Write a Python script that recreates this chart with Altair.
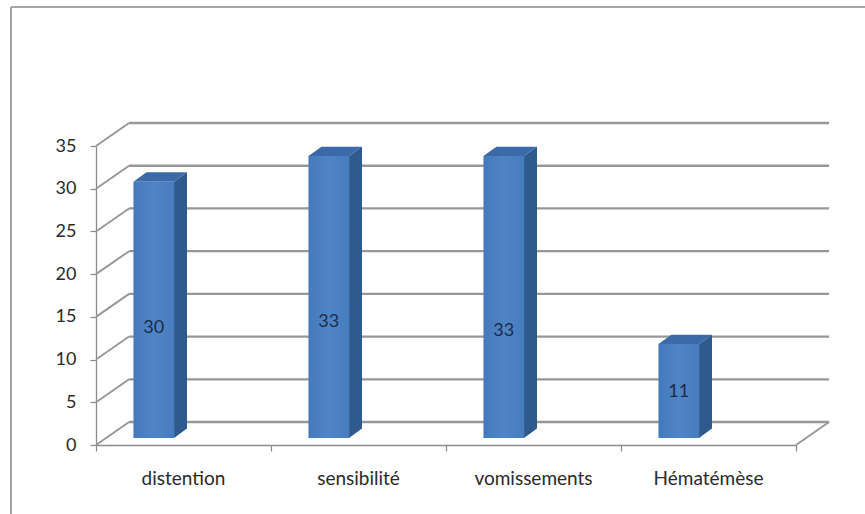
import altair as alt
import pandas as pd

# Data
categories = ["distention", "sensibilité", "vomissements", "Hématémèse"]
values = [30, 33, 33, 11]
y_ticks = [0, 5, 10, 15, 20, 25, 30, 35]
label_frac = [0.43, 0.41, 0.38, 0.49]  # where each value label sits along its bar

# 3D layout (in scale units: x = category slots, y = chart values)
DEPTH_X, DEPTH_Y = 0.189, 2.69     # back wall offset
BAR_SHIFT = 0.33                   # bar centre inside its slot
BAR_HALF = 0.116                   # half width of bar front face
BAR_BASE = 0.82                    # bar floor (mid depth)
SIDE_X, SIDE_Y = 0.074, 1.1        # bar side / top depth

SIDE = "#2f5a8e"
TOP = "#3c6aa8"
GRID = "#979797"
AXIS = "#8a8a8a"
FONT = "Lato"

W, H = 700, 299
n = len(categories)

xs = alt.Scale(domain=[0, n], nice=False, zero=False)
ys = alt.Scale(domain=[0, 35], nice=False, zero=False)

bars = pd.DataFrame({
    "cat": categories,
    "value": values,
    "xl": [i + BAR_SHIFT - BAR_HALF for i in range(n)],
    "xr": [i + BAR_SHIFT + BAR_HALF for i in range(n)],
    "xc": [i + BAR_SHIFT for i in range(n)],
    "xm": [i + 0.5 for i in range(n)],
})
bars["base"] = BAR_BASE
bars["top"] = BAR_BASE + bars["value"]
bars["label_y"] = [BAR_BASE + v * f for v, f in zip(values, label_frac)]

side_rows, top_rows = [], []
for r in bars.to_dict("records"):
    side_rows.append({"cat": r["cat"], "x": r["xr"], "y": r["base"], "y2": r["top"]})
    side_rows.append({"cat": r["cat"], "x": r["xr"] + SIDE_X, "y": r["base"] + SIDE_Y, "y2": r["top"] + SIDE_Y})
    top_rows.append({"cat": r["cat"], "y": r["top"], "x": r["xl"], "x2": r["xr"]})
    top_rows.append({"cat": r["cat"], "y": r["top"] + SIDE_Y, "x": r["xl"] + SIDE_X, "x2": r["xr"] + SIDE_X})
side_df = pd.DataFrame(side_rows)
top_df = pd.DataFrame(top_rows)

grid = pd.DataFrame({"v": y_ticks})
grid["vb"] = grid["v"] + DEPTH_Y
grid["x0"] = 0.0
grid["xb0"] = DEPTH_X
grid["xb1"] = n + DEPTH_X

floor_edge = pd.DataFrame({"x": [n], "y": [0], "x2": [n + DEPTH_X], "y2": [DEPTH_Y]})

# back wall horizontal grid lines (also carries both axes)
back = alt.Chart(grid).mark_rule(color=GRID, strokeWidth=2.3).encode(
    x=alt.X("xb0:Q", scale=xs, axis=alt.Axis(values=list(range(n + 1)), labels=False, title=None,
                                              grid=False, domainColor=AXIS, tickColor=AXIS,
                                              tickSize=6, domainWidth=1.3, tickWidth=1.2)),
    x2="xb1:Q",
    y=alt.Y("vb:Q", scale=ys, axis=alt.Axis(values=y_ticks, title=None, grid=False,
                                            domainColor=AXIS, tickColor=AXIS, tickSize=6,
                                            labelFont=FONT, labelFontSize=18, labelColor="#2a2a2a",
                                            labelPadding=14, domainWidth=1.3, tickWidth=1.2)),
    y2="vb:Q",
)

# side wall diagonals
wall = alt.Chart(grid).mark_rule(color=GRID, strokeWidth=1.9).encode(
    x="x0:Q", x2="xb0:Q", y="v:Q", y2="vb:Q"
)

edge = alt.Chart(floor_edge).mark_rule(color=GRID, strokeWidth=1.9).encode(
    x="x:Q", x2="x2:Q", y="y:Q", y2="y2:Q"
)

side = alt.Chart(side_df).mark_area(orient="vertical", color=SIDE).encode(
    x=alt.X("x:Q", scale=xs), y=alt.Y("y:Q", scale=ys), y2="y2:Q", detail="cat:N"
)

top = alt.Chart(top_df).mark_area(orient="horizontal", color=TOP).encode(
    y=alt.Y("y:Q", scale=ys), x=alt.X("x:Q", scale=xs), x2="x2:Q", detail="cat:N"
)

front = alt.Chart(bars).mark_rect(
    color=alt.Gradient(
        gradient="linear", x1=0, x2=1, y1=0, y2=0,
        stops=[alt.GradientStop(color="#4479bb", offset=0),
               alt.GradientStop(color="#4f84c7", offset=0.5),
               alt.GradientStop(color="#477cbf", offset=1)],
    )
).encode(
    x=alt.X("xl:Q", scale=xs), x2="xr:Q", y=alt.Y("base:Q", scale=ys), y2="top:Q"
)

value_labels = alt.Chart(bars).mark_text(font=FONT, fontSize=18, color="#1c2b48").encode(
    x=alt.X("xc:Q", scale=xs), y=alt.Y("label_y:Q", scale=ys), text="value:Q"
)

cat_labels = alt.Chart(bars).mark_text(font=FONT, fontSize=19, color="#2a2a2a", baseline="middle").encode(
    x=alt.X("xm:Q", scale=xs), y=alt.value(H + 34), text="cat:N"
)

# outer frame
frame_v = alt.Chart(bars).mark_rule(color="#a0a0a0", strokeWidth=1.2).encode(
    x=alt.value(-85), y=alt.value(-139), y2=alt.value(H + 80)
)
frame_h = alt.Chart(bars).mark_rule(color="#a0a0a0", strokeWidth=1.2).encode(
    x=alt.value(-85), x2=alt.value(W + 80), y=alt.value(-139)
)

chart = alt.layer(
    frame_v, frame_h, back, wall, edge, side, top, front, value_labels, cat_labels
).properties(
    width=W, height=H,
    background="white",
    autosize=alt.AutoSizeParams(type="none"),
    padding={"left": 96, "top": 146, "right": 69, "bottom": 69},
).configure_view(strokeWidth=0, stroke="transparent")

chart.save("out.html", embed_options={"renderer": "svg", "actions": False})
